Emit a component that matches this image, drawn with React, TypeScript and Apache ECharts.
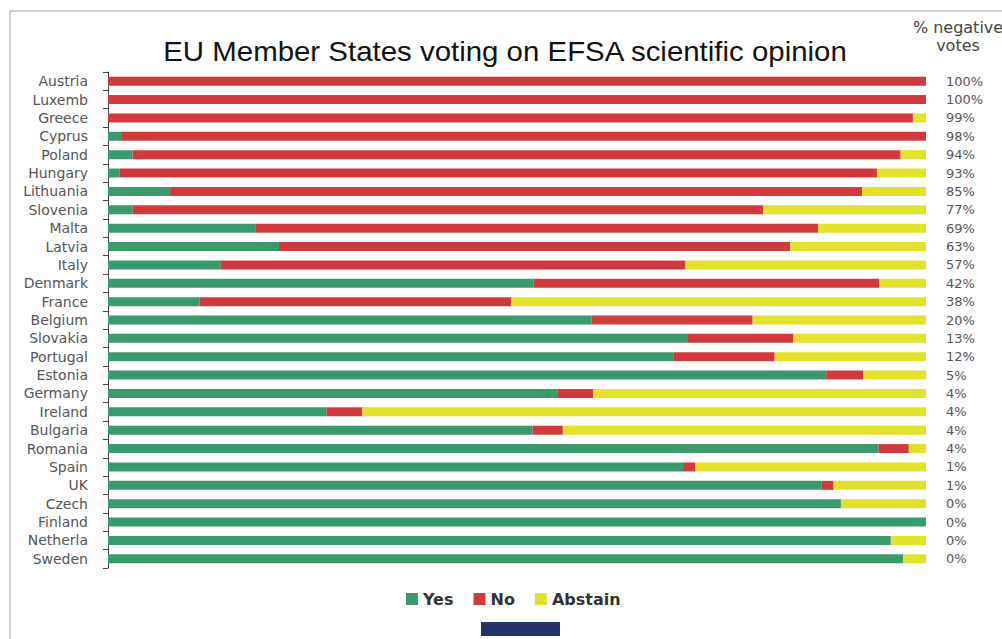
import React, { useEffect, useRef } from "react";
import * as echarts from "echarts";

const countries = ["Austria","Luxemb","Greece","Cyprus","Poland","Hungary","Lithuania","Slovenia","Malta","Latvia","Italy","Denmark","France","Belgium","Slovakia","Portugal","Estonia","Germany","Ireland","Bulgaria","Romania","Spain","UK","Czech","Finland","Netherla","Sweden"];
const yesVotes = [0,0,0,1.6,3.0,1.4,7.6,3.0,18.0,20.9,13.8,52.0,11.2,59.1,70.8,69.1,87.8,55.0,26.7,51.9,94.2,70.3,87.2,89.6,100,95.7,97.2];
const noVotes = [100,100,98.4,98.4,93.9,92.6,84.6,77.1,68.8,62.5,56.8,42.3,38.1,19.7,13.0,12.4,4.5,4.3,4.4,3.7,3.7,1.5,1.5,0,0,0,0];
const abstainVotes = [0,0,1.6,0,3.1,6.0,7.8,19.9,13.2,16.6,29.4,5.7,50.7,21.2,16.2,18.5,7.7,40.7,68.9,44.4,2.1,28.2,11.3,10.4,0,4.3,2.8];
const negativeLabels = ["100%","100%","99%","98%","94%","93%","85%","77%","69%","63%","57%","42%","38%","20%","13%","12%","5%","4%","4%","4%","4%","1%","1%","0%","0%","0%","0%"];

const GREEN = "#3a9a6d";
const RED = "#d03a3d";
const YELLOW = "#e2e12b";

export default function App() {
  const ref = useRef<HTMLDivElement>(null);
  useEffect(() => {
    if (!ref.current) return;
    const chart = echarts.init(ref.current, null, { renderer: "svg" });
    const labelFont = "'DejaVu Sans', sans-serif";
    const barBase = { type: "bar", stack: "total", barWidth: 9 };
    chart.setOption({
      animation: false,
      backgroundColor: "#ffffff",
      grid: { left: 108, right: 76, top: 72, bottom: 71 },
      xAxis: { type: "value", min: 0, max: 100, show: false },
      yAxis: [
        {
          type: "category",
          data: countries,
          inverse: true,
          axisLine: { show: true, lineStyle: { color: "#444", width: 1 } },
          axisTick: { show: true, length: 5, lineStyle: { color: "#444" } },
          axisLabel: { margin: 20, color: "#555", fontSize: 14, fontFamily: labelFont },
        },
        {
          type: "category",
          data: negativeLabels,
          inverse: true,
          position: "right",
          axisLine: { show: false },
          axisTick: { show: false },
          axisLabel: { margin: 20, color: "#555", fontSize: 13, fontFamily: labelFont, align: "left" },
        },
      ],
      legend: {
        left: 401,
        top: 586,
        icon: "rect",
        itemWidth: 12,
        itemHeight: 12,
        itemGap: 20,
        textStyle: { fontSize: 16, fontWeight: "bold", color: "#333", fontFamily: labelFont },
        data: ["Yes", "No", "Abstain"],
      },
      series: [
        { ...barBase, name: "Yes", data: yesVotes, itemStyle: { color: GREEN } },
        { ...barBase, name: "No", data: noVotes, itemStyle: { color: RED } },
        { ...barBase, name: "Abstain", data: abstainVotes, itemStyle: { color: YELLOW } },
      ],
      graphic: [
        {
          type: "rect",
          silent: true,
          shape: { x: 10, y: 11, width: 1200, height: 800 },
          style: { fill: "none", stroke: "#a0a0a0", lineWidth: 1 },
        },
        {
          type: "text",
          x: 505,
          y: 51,
          scaleX: 1.09,
          style: {
            text: "EU Member States voting on EFSA scientific opinion",
            fontSize: 27,
            fontFamily: "'Liberation Sans', Arial, sans-serif",
            fill: "#111",
            textAlign: "center",
            textVerticalAlign: "middle",
          },
        },
        {
          type: "text",
          x: 958,
          y: 36,
          style: {
            text: "% negative\nvotes",
            fontSize: 16,
            lineHeight: 18,
            fontFamily: labelFont,
            fill: "#444",
            textAlign: "center",
            textVerticalAlign: "middle",
          },
        },
        {
          type: "rect",
          silent: true,
          shape: { x: 481, y: 622, width: 79, height: 14 },
          style: { fill: "#253368" },
        },
      ],
    });
    return () => chart.dispose();
  }, []);
  return (
    <div
      ref={ref}
      style={{ position: "absolute", left: 0, top: 0, width: 1002, height: 639 }}
    />
  );
}
